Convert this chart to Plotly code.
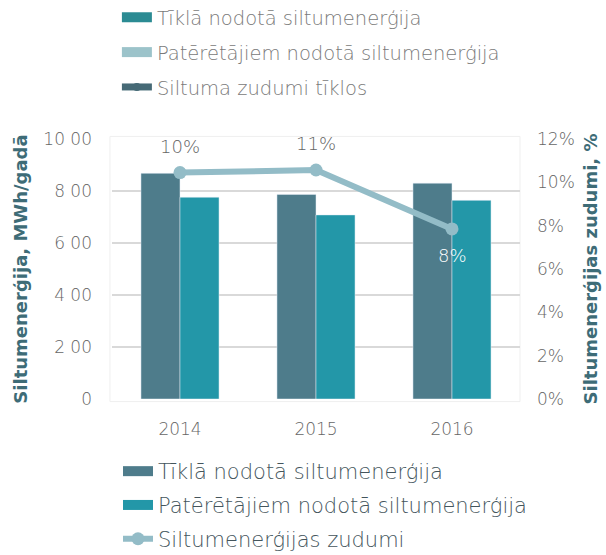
import plotly.graph_objects as go

years = ["2014", "2015", "2016"]
tikla = [868, 787, 830]          # Tīklā nodotā siltumenerģija, MWh/gadā
pateretajiem = [776, 708, 764]   # Patērētājiem nodotā siltumenerģija
zudumi = [0.1045, 0.1057, 0.0785]  # Siltumenerģijas zudumi

left_tickvals = [0, 200, 400, 600, 800, 1000]
left_ticktext = ["0", "2 00", "4 00", "6 00", "8 00", "10 00"]
right_tickvals = [0, 0.02, 0.04, 0.06, 0.08, 0.10, 0.12]
right_ticktext = ["0%", "2%", "4%", "6%", "8%", "10%", "12%"]

top_legend_names = ["Tīklā nodotā siltumenerģija",
                    "Patērētājiem nodotā siltumenerģija",
                    "Siltuma zudumi tīklos"]
bottom_legend_names = ["Tīklā nodotā siltumenerģija",
                       "Patērētājiem nodotā siltumenerģija",
                       "Siltumenerģijas zudumi"]

C_DARK = "#4e7c8b"
C_TEAL = "#2397a8"
C_LINE = "#93bcc7"
FONT = "DejaVu Sans"

fig = go.Figure()

fig.add_trace(go.Bar(x=years, y=tikla, name=bottom_legend_names[0],
                     marker_color=C_DARK, showlegend=False))
fig.add_trace(go.Bar(x=years, y=pateretajiem, name=bottom_legend_names[1],
                     marker_color=C_TEAL, showlegend=False))
fig.add_trace(go.Scatter(
    x=years, y=zudumi, name=bottom_legend_names[2], yaxis="y2",
    mode="lines+markers",
    line=dict(color=C_LINE, width=6),
    marker=dict(color=C_LINE, size=13),
    showlegend=False, cliponaxis=False))

# data labels for the loss line
label_shift = [26, 26, -27]
label_color = ["#666666", "#666666", "#ffffff"]
for i, (yv, sh, col) in enumerate(zip(zudumi, label_shift, label_color)):
    fig.add_annotation(x=i, y=yv, xref="x", yref="y2",
                       text=str(int(round(yv * 100))) + "%", showarrow=False,
                       yshift=sh,
                       font=dict(family=FONT, size=18, color=col, weight=300))

# top legend entries
top_colors = ["#2b8b93", "#9cc3ca", "#466a76"]
for i, (nm, col) in enumerate(zip(top_legend_names, top_colors)):
    if i < 2:
        fig.add_trace(go.Scatter(x=[None], y=[None], name=nm, mode="lines",
                                 line=dict(color=col, width=13),
                                 legend="legend", legendgroup="t%d" % i))
    else:
        fig.add_trace(go.Scatter(x=[None], y=[None], name=nm, mode="lines+markers",
                                 line=dict(color=col, width=7),
                                 marker=dict(color=col, size=8),
                                 legend="legend", legendgroup="t%d" % i))

# bottom legend entries
bot_colors = [C_DARK, C_TEAL, C_LINE]
for i, (nm, col) in enumerate(zip(bottom_legend_names, bot_colors)):
    if i < 2:
        fig.add_trace(go.Scatter(x=[None], y=[None], name=nm, mode="lines",
                                 line=dict(color=col, width=13),
                                 legend="legend2", legendgroup="b%d" % i))
    else:
        fig.add_trace(go.Scatter(x=[None], y=[None], name=nm, mode="lines+markers",
                                 line=dict(color=col, width=6),
                                 marker=dict(color=col, size=13),
                                 legend="legend2", legendgroup="b%d" % i))

fig.update_layout(
    width=606, height=555,
    margin=dict(l=112, r=86, t=139, b=156, autoexpand=False),
    paper_bgcolor="white", plot_bgcolor="white",
    barmode="group", bargap=0.426, bargroupgap=0,
    font=dict(family=FONT, color="#666666"),
    xaxis=dict(type="category", range=[-0.5, 2.5], showgrid=False,
               tickfont=dict(family=FONT, size=17, color="#666666", weight=300),
               ticks="", ticklabelstandoff=18, zeroline=False,
               showline=False),
    yaxis=dict(range=[0, 1000], tickvals=left_tickvals, ticktext=left_ticktext,
               showgrid=True, gridcolor="#d9d9d9", gridwidth=2,
               zeroline=False, ticks="", ticklabelstandoff=19,
               tickfont=dict(family=FONT, size=17, color="#666666", weight=300),
               title=dict(text="Siltumenerģija, MWh/gadā", standoff=11,
                          font=dict(family=FONT, size=18, color="#3e6c77",
                                    weight="bold"))),
    yaxis2=dict(range=[0, 0.12], overlaying="y", side="right",
                tickvals=right_tickvals, ticktext=right_ticktext,
                showgrid=False, zeroline=False, ticks="", ticklabelstandoff=16,
                tickfont=dict(family=FONT, size=17, color="#666666", weight=300),
                title=dict(text="Siltumenerģijas zudumi, %", standoff=10,
                           font=dict(family=FONT, size=18, color="#3e6c77",
                                     weight="bold"))),
    legend=dict(x=0.012, y=1.542, xanchor="left", yanchor="top",
                orientation="v", tracegroupgap=6.5, itemclick=False,
                bgcolor="rgba(0,0,0,0)",
                font=dict(family=FONT, size=19.5, color="#7a7a7a", weight=300)),
    legend2=dict(x=0.0147, y=-0.2, xanchor="left", yanchor="top",
                 orientation="v", tracegroupgap=3.5, itemclick=False,
                 bgcolor="rgba(0,0,0,0)",
                 font=dict(family=FONT, size=21, color="#44555c", weight=300)),
    shapes=[dict(type="rect", xref="paper", yref="paper", x0=-0.005, x1=1.0,
                 y0=-0.01, y1=1.01, line=dict(color="#efefef", width=1),
                 layer="below")],
)

fig.write_html("out.html", config={"displayModeBar": False},
               post_script="document.body.style.margin='0';")
